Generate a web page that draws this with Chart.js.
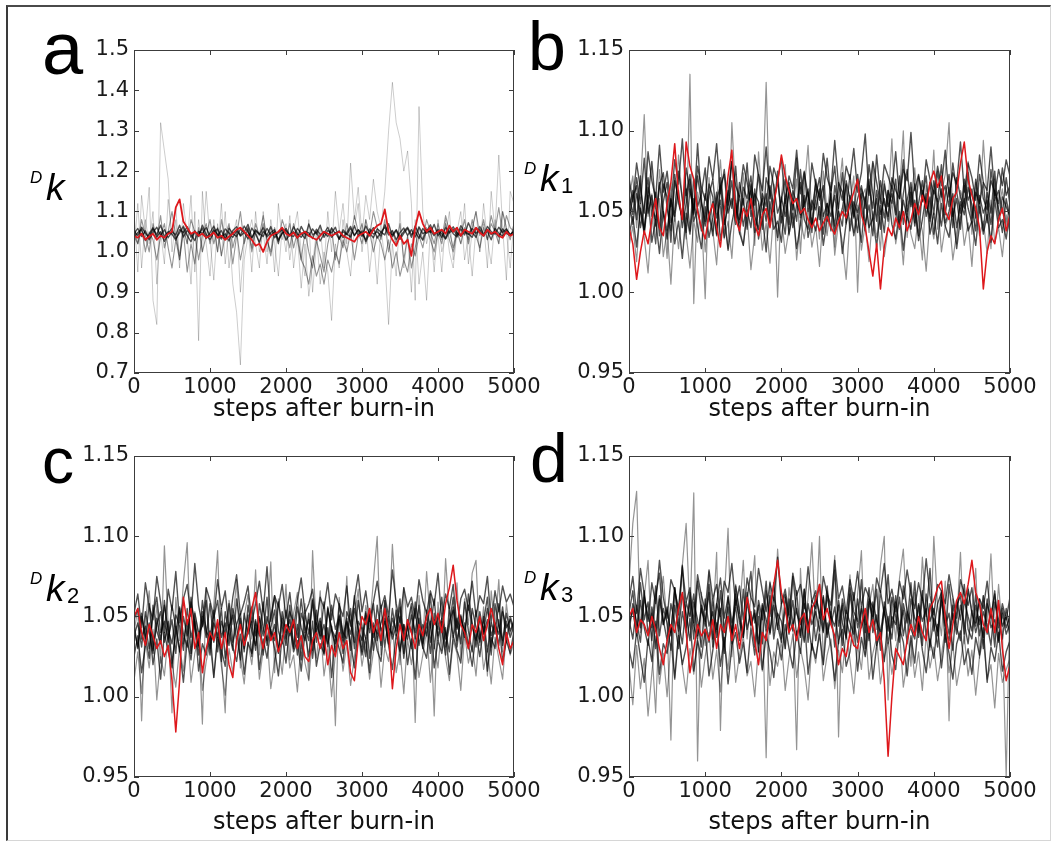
<!DOCTYPE html>
<html>
<head>
<meta charset="utf-8">
<title>MCMC traces</title>
<script src="https://cdn.jsdelivr.net/npm/chart.js@4.4.1/dist/chart.umd.min.js"></script>
<style>
  html, body { margin: 0; padding: 0; background: #fff; }
  #page { position: relative; width: 1060px; height: 852px; overflow: hidden; background: #fff; }
  #page canvas { position: absolute; left: 0; top: 0; }
  #frame {
    position: absolute; left: 6px; top: 5px; width: 1045px; height: 836px; box-sizing: border-box;
    border: 1px solid #d6d6d6; border-left: 2px solid #3a3a3a; border-top: 2px solid #4a4a4a;
  }
</style>
</head>
<body>
<div id="page">
  <div id="frame"></div>
  <canvas id="panelA" width="1060" height="852"></canvas>
  <canvas id="panelB" width="1060" height="852"></canvas>
  <canvas id="panelC" width="1060" height="852"></canvas>
  <canvas id="panelD" width="1060" height="852"></canvas>
</div>
<script>
// steps after burn-in (one sample every 50 steps)
const steps = [0,50,100,150,200,250,300,350,400,450,500,550,600,650,700,750,800,850,900,950,
  1000,1050,1100,1150,1200,1250,1300,1350,1400,1450,1500,1550,1600,1650,1700,1750,1800,1850,1900,1950,
  2000,2050,2100,2150,2200,2250,2300,2350,2400,2450,2500,2550,2600,2650,2700,2750,2800,2850,2900,2950,
  3000,3050,3100,3150,3200,3250,3300,3350,3400,3450,3500,3550,3600,3650,3700,3750,3800,3850,3900,3950,
  4000,4050,4100,4150,4200,4250,4300,4350,4400,4450,4500,4550,4600,4650,4700,4750,4800,4850,4900,4950,5000];

const xTicks = [0, 1000, 2000, 3000, 4000, 5000];
const yTicksK = [0.7, 0.8, 0.9, 1.0, 1.1, 1.2, 1.3, 1.4, 1.5];
const yTicksKn = [0.95, 1.00, 1.05, 1.10, 1.15];
const xTitle = 'steps after burn-in';

// ---- panel a: Dk ----
const kRed = [1.040,1.035,1.045,1.030,1.038,1.045,1.030,1.040,1.035,1.045,
  1.050,1.110,1.130,1.075,1.060,1.045,1.050,1.040,1.045,1.035,
  1.040,1.048,1.035,1.040,1.030,1.038,1.045,1.055,1.060,1.050,
  1.040,1.030,1.015,1.020,1.000,1.025,1.040,1.045,1.050,1.060,
  1.045,1.040,1.048,1.035,1.045,1.050,1.040,1.035,1.030,1.040,
  1.050,1.045,1.040,1.045,1.050,1.040,1.035,1.030,1.025,1.040,
  1.045,1.050,1.040,1.055,1.065,1.070,1.105,1.050,1.030,1.015,
  1.040,1.020,1.030,0.990,1.060,1.100,1.070,1.050,1.060,1.045,
  1.050,1.055,1.045,1.065,1.050,1.060,1.040,1.055,1.050,1.045,
  1.060,1.048,1.040,1.055,1.045,1.050,1.040,1.035,1.050,1.040,1.045];
const kDark1 = [1.045,1.058,1.038,1.052,1.030,1.048,1.061,1.040,1.055,1.035,
  1.050,1.042,1.066,1.037,1.053,1.044,1.028,1.051,1.046,1.060,
  1.039,1.054,1.043,1.032,1.057,1.047,1.036,1.052,1.041,1.064,
  1.049,1.034,1.055,1.045,1.038,1.058,1.042,1.050,1.031,1.046,
  1.053,1.040,1.062,1.044,1.036,1.051,1.047,1.033,1.056,1.043,
  1.049,1.038,1.059,1.045,1.052,1.035,1.048,1.063,1.041,1.054,
  1.046,1.030,1.057,1.044,1.050,1.039,1.067,1.048,1.042,1.055,
  1.037,1.051,1.061,1.043,1.049,1.034,1.058,1.046,1.053,1.040,
  1.056,1.044,1.032,1.050,1.062,1.047,1.039,1.054,1.045,1.036,
  1.059,1.048,1.041,1.055,1.043,1.050,1.037,1.057,1.046,1.040,1.052];
const kDark2 = [1.035,1.048,1.055,1.028,1.044,1.060,1.037,1.050,1.026,1.046,
  1.058,1.033,1.047,1.064,1.040,1.025,1.052,1.038,1.066,1.043,
  1.030,1.049,1.057,1.036,1.045,1.027,1.053,1.062,1.039,1.048,
  1.032,1.059,1.044,1.024,1.051,1.041,1.063,1.035,1.047,1.056,
  1.029,1.043,1.038,1.058,1.046,1.033,1.069,1.042,1.050,1.027,
  1.045,1.061,1.036,1.048,1.031,1.055,1.044,1.037,1.065,1.040,
  1.052,1.026,1.047,1.060,1.034,1.049,1.042,1.070,1.038,1.053,
  1.031,1.046,1.058,1.036,1.064,1.043,1.029,1.055,1.048,1.068,
  1.040,1.053,1.033,1.061,1.045,1.037,1.057,1.042,1.072,1.049,
  1.036,1.063,1.044,1.051,1.030,1.058,1.046,1.039,1.054,1.043,1.050];
const kDark3 = [1.052,1.040,1.061,1.046,1.035,1.057,1.043,1.066,1.038,1.050,
  1.044,1.029,1.055,1.048,1.062,1.036,1.051,1.042,1.058,1.033,
  1.047,1.064,1.040,1.053,1.031,1.059,1.045,1.038,1.056,1.049,
  1.068,1.035,1.052,1.043,1.060,1.037,1.048,1.055,1.027,1.046,
  1.058,1.041,1.050,1.034,1.063,1.045,1.039,1.057,1.044,1.066,
  1.036,1.053,1.047,1.061,1.032,1.050,1.043,1.058,1.040,1.055,
  1.038,1.064,1.046,1.035,1.057,1.049,1.061,1.042,1.053,1.030,
  1.048,1.059,1.041,1.055,1.037,1.062,1.045,1.050,1.067,1.044,
  1.052,1.036,1.060,1.047,1.056,1.040,1.065,1.049,1.043,1.058,
  1.046,1.055,1.039,1.063,1.050,1.044,1.061,1.048,1.057,1.042,1.053];
const kMid1 = [1.04,1.02,1.06,1.00,1.05,1.03,0.98,1.04,1.07,1.01,
  0.96,1.03,0.98,1.05,0.95,1.02,0.97,1.06,1.00,1.04,
  1.08,1.02,1.06,0.99,1.04,1.07,1.01,1.05,0.98,1.03,
  1.06,1.00,1.05,1.02,1.07,1.03,0.99,1.05,1.02,1.06,
  1.03,1.07,1.01,1.05,0.98,0.96,0.92,0.99,0.94,0.97,
  0.92,0.98,0.95,1.00,0.97,1.03,1.00,1.05,0.98,1.04,
  1.07,1.02,1.05,1.00,1.04,1.02,0.98,1.03,0.96,1.00,
  0.94,0.98,0.95,1.02,0.99,1.04,1.01,1.06,1.03,1.00,
  1.05,1.02,1.07,1.03,1.00,1.05,1.02,1.06,1.03,1.08,
  1.04,1.01,1.06,1.03,1.09,1.05,1.02,1.10,1.06,1.03,1.07];
const kMid2 = [1.06,1.02,1.08,1.04,1.00,1.07,1.03,1.09,1.01,1.05,
  1.10,1.04,0.99,1.06,1.02,1.08,1.05,0.98,1.04,1.07,
  1.02,1.06,1.00,1.08,1.03,1.05,0.97,1.04,1.10,1.02,
  1.06,1.01,1.07,1.04,1.09,1.03,1.00,1.06,1.02,1.08,
  1.05,1.01,1.07,1.03,0.98,1.05,1.00,0.96,1.03,0.99,
  0.95,1.02,1.06,0.98,1.04,1.01,1.07,1.03,1.09,1.05,
  1.02,1.08,1.04,1.10,1.06,1.03,1.08,1.00,1.05,1.02,
  1.07,0.98,1.04,0.96,1.01,1.06,1.03,1.08,1.05,1.02,
  1.07,1.03,1.09,1.05,1.01,1.06,1.04,1.08,1.02,1.06,
  1.10,1.04,1.08,1.03,1.07,1.05,1.11,1.04,1.09,1.06,1.05];
const kLight1 = [1.10,0.95,1.14,1.05,1.16,0.88,0.82,1.32,1.25,1.18,
  1.00,1.08,0.96,1.12,1.04,0.92,1.10,0.78,1.15,1.02,
  0.94,1.08,1.00,1.12,0.97,1.06,0.92,0.85,0.72,0.98,
  1.04,1.08,1.02,0.96,1.10,1.00,1.06,0.95,1.12,1.03,
  1.07,0.98,1.05,1.10,1.00,0.94,1.08,0.90,1.02,1.06,
  0.96,1.10,1.00,1.15,1.05,1.12,1.02,1.22,1.08,1.16,
  1.04,1.14,1.08,1.18,1.10,1.06,1.15,1.30,1.42,1.32,
  1.28,1.20,1.25,1.12,0.88,1.36,1.10,1.02,1.06,0.95,
  1.08,1.00,1.04,1.10,0.98,1.06,1.02,1.12,0.97,1.05,
  1.10,1.00,1.07,0.96,1.15,1.05,1.24,1.06,0.93,1.15,1.12];
const kLight2 = [1.00,1.12,0.96,1.08,1.02,1.10,0.92,1.05,0.97,1.13,
  1.04,1.11,0.98,1.06,1.02,1.14,0.95,1.08,1.00,1.15,
  1.03,0.93,1.07,0.99,1.10,0.96,1.04,1.08,0.90,1.02,
  1.06,0.95,1.10,1.00,1.05,0.97,1.08,1.02,0.94,1.06,
  1.00,1.09,0.96,1.04,0.91,1.02,0.89,0.97,1.05,0.92,
  1.00,0.95,0.83,1.02,0.96,1.08,1.00,0.94,1.06,1.12,
  1.00,1.08,0.95,1.04,0.92,1.06,0.98,0.82,1.02,0.94,
  1.10,0.96,1.04,0.90,1.08,0.92,1.00,0.88,1.06,0.98,
  1.04,0.95,1.08,1.00,0.96,1.05,1.10,0.98,1.04,0.94,
  1.06,1.00,1.12,1.03,0.97,1.08,1.02,1.10,1.05,0.96,1.08];

// ---- panel b: Dk1 ----
const k1Red = [1.040,1.030,1.008,1.025,1.038,1.030,1.045,1.058,1.040,1.035,
  1.055,1.068,1.092,1.060,1.045,1.093,1.078,1.070,1.050,1.040,
  1.033,1.048,1.055,1.040,1.028,1.050,1.072,1.088,1.045,1.038,
  1.052,1.047,1.058,1.042,1.035,1.048,1.052,1.040,1.055,1.068,
  1.085,1.072,1.063,1.055,1.058,1.049,1.052,1.045,1.040,1.046,
  1.038,1.043,1.047,1.040,1.036,1.044,1.050,1.046,1.055,1.062,
  1.070,1.048,1.040,1.025,1.010,1.030,1.002,1.028,1.040,1.035,
  1.046,1.040,1.050,1.038,1.045,1.055,1.048,1.060,1.052,1.068,
  1.075,1.065,1.072,1.050,1.045,1.058,1.062,1.080,1.093,1.070,
  1.060,1.052,1.040,1.002,1.025,1.035,1.030,1.045,1.052,1.038,1.048];
const k1Dark1 = [1.062,1.048,1.071,1.055,1.083,1.049,1.060,1.041,1.066,1.074,
  1.052,1.038,1.069,1.058,1.045,1.077,1.063,1.051,1.092,1.056,
  1.044,1.067,1.059,1.036,1.071,1.048,1.062,1.081,1.054,1.043,
  1.065,1.058,1.072,1.047,1.039,1.061,1.053,1.078,1.066,1.049,
  1.057,1.070,1.042,1.063,1.055,1.048,1.074,1.060,1.051,1.067,
  1.045,1.059,1.083,1.056,1.041,1.068,1.062,1.050,1.073,1.046,
  1.058,1.066,1.052,1.079,1.061,1.044,1.069,1.055,1.047,1.071,
  1.063,1.058,1.082,1.050,1.065,1.043,1.072,1.061,1.054,1.068,
  1.048,1.075,1.059,1.066,1.053,1.080,1.062,1.049,1.070,1.057,
  1.064,1.046,1.073,1.058,1.051,1.069,1.062,1.055,1.077,1.060,1.066];
const k1Dark2 = [1.035,1.047,1.028,1.052,1.039,1.060,1.031,1.045,1.024,1.050,
  1.038,1.057,1.030,1.044,1.021,1.049,1.036,1.058,1.041,1.027,
  1.053,1.034,1.046,1.062,1.032,1.048,1.026,1.043,1.055,1.037,
  1.029,1.051,1.040,1.064,1.033,1.047,1.025,1.056,1.039,1.044,
  1.031,1.058,1.036,1.049,1.027,1.042,1.060,1.034,1.046,1.038,
  1.053,1.029,1.045,1.061,1.037,1.050,1.024,1.043,1.056,1.035,
  1.048,1.031,1.059,1.040,1.046,1.028,1.054,1.037,1.063,1.042,
  1.033,1.050,1.026,1.047,1.039,1.057,1.032,1.045,1.061,1.036,
  1.049,1.030,1.055,1.041,1.034,1.052,1.027,1.046,1.058,1.038,
  1.044,1.029,1.053,1.036,1.048,1.031,1.057,1.040,1.045,1.033,1.050];
const k1Dark3 = [1.050,1.063,1.045,1.072,1.036,1.058,1.081,1.052,1.040,1.067,
  1.059,1.031,1.073,1.055,1.046,1.064,1.038,1.070,1.053,1.061,
  1.077,1.044,1.056,1.035,1.066,1.073,1.049,1.058,1.042,1.068,
  1.054,1.080,1.047,1.061,1.056,1.039,1.071,1.062,1.050,1.075,
  1.043,1.059,1.068,1.051,1.083,1.046,1.055,1.064,1.037,1.070,
  1.057,1.066,1.044,1.062,1.078,1.050,1.041,1.069,1.058,1.047,
  1.073,1.054,1.038,1.066,1.052,1.085,1.059,1.046,1.063,1.055,
  1.070,1.041,1.061,1.076,1.053,1.067,1.049,1.058,1.072,1.044,
  1.063,1.056,1.079,1.048,1.065,1.040,1.071,1.059,1.052,1.074,
  1.046,1.062,1.055,1.068,1.043,1.076,1.057,1.063,1.049,1.071,1.054];
const k1Dark4 = [1.071,1.056,1.080,1.064,1.049,1.087,1.069,1.058,1.091,1.062,
  1.075,1.053,1.082,1.067,1.095,1.060,1.073,1.048,1.078,1.065,
  1.057,1.084,1.070,1.092,1.061,1.076,1.054,1.081,1.066,1.059,
  1.079,1.068,1.052,1.085,1.073,1.063,1.090,1.058,1.077,1.069,
  1.083,1.055,1.072,1.064,1.088,1.061,1.075,1.050,1.080,1.067,
  1.059,1.086,1.071,1.063,1.094,1.066,1.057,1.078,1.070,1.089,
  1.062,1.074,1.098,1.060,1.081,1.068,1.055,1.079,1.072,1.064,
  1.087,1.058,1.076,1.069,1.099,1.063,1.073,1.056,1.082,1.070,
  1.061,1.078,1.066,1.088,1.059,1.074,1.067,1.093,1.062,1.080,
  1.071,1.057,1.085,1.068,1.063,1.090,1.060,1.076,1.066,1.082,1.072];
const k1Dark5 = [1.044,1.059,1.066,1.040,1.053,1.071,1.047,1.062,1.035,1.056,
  1.068,1.043,1.051,1.075,1.058,1.037,1.064,1.049,1.072,1.055,
  1.041,1.060,1.070,1.046,1.057,1.034,1.063,1.052,1.078,1.045,
  1.058,1.039,1.067,1.054,1.073,1.048,1.061,1.042,1.056,1.069,
  1.050,1.036,1.065,1.057,1.044,1.076,1.053,1.062,1.040,1.059,
  1.071,1.047,1.055,1.038,1.066,1.052,1.074,1.043,1.060,1.051,
  1.037,1.064,1.056,1.070,1.045,1.058,1.039,1.067,1.053,1.061,
  1.048,1.072,1.042,1.057,1.068,1.050,1.035,1.063,1.055,1.046,
  1.069,1.054,1.041,1.060,1.073,1.047,1.058,1.039,1.066,1.052,
  1.043,1.070,1.056,1.038,1.062,1.049,1.075,1.044,1.059,1.053,1.047];
const k1Dark6 = [1.056,1.042,1.061,1.050,1.037,1.065,1.054,1.045,1.068,1.049,
  1.033,1.058,1.047,1.063,1.040,1.055,1.070,1.044,1.052,1.038,
  1.061,1.048,1.035,1.057,1.066,1.042,1.053,1.069,1.046,1.060,
  1.041,1.055,1.063,1.037,1.050,1.058,1.044,1.066,1.053,1.034,
  1.059,1.047,1.062,1.040,1.054,1.068,1.045,1.039,1.057,1.051,
  1.064,1.036,1.055,1.047,1.060,1.043,1.052,1.067,1.038,1.056,
  1.049,1.061,1.042,1.054,1.035,1.063,1.048,1.058,1.044,1.066,
  1.052,1.039,1.057,1.046,1.062,1.041,1.055,1.069,1.047,1.059,
  1.036,1.053,1.064,1.043,1.050,1.061,1.040,1.056,1.048,1.065,
  1.054,1.038,1.060,1.049,1.057,1.042,1.063,1.051,1.037,1.058,1.045];
const k1Grey1 = [1.058,1.072,1.040,1.065,1.110,1.047,1.061,1.030,1.076,1.052,
  1.021,1.068,1.044,1.085,1.057,1.033,1.135,0.993,1.062,1.049,
  0.996,1.071,1.038,1.056,1.082,1.045,1.027,1.105,1.059,1.036,
  1.074,1.050,1.066,1.029,1.087,1.054,1.130,1.043,1.067,0.997,
  1.060,1.079,1.035,1.052,1.070,1.024,1.063,1.091,1.046,1.057,
  1.033,1.075,1.050,1.068,1.028,1.061,1.083,1.042,1.055,1.072,
  1.000,1.058,1.064,1.037,1.080,1.049,1.026,1.069,1.053,1.095,
  1.041,1.062,1.100,1.034,1.058,1.077,1.045,1.020,1.066,1.052,
  1.088,1.039,1.061,1.073,1.105,1.047,1.030,1.063,1.055,1.081,
  1.036,1.068,1.049,1.094,1.058,1.027,1.070,1.052,1.064,1.041,1.057];
const k1Grey2 = [1.028,1.041,1.019,1.055,1.034,1.012,1.046,1.030,1.058,1.022,
  1.039,1.005,1.048,1.027,1.052,1.036,1.015,1.044,1.031,1.060,
  1.025,1.049,1.038,1.017,1.053,1.033,1.044,1.021,1.057,1.040,
  1.029,1.048,1.014,1.036,1.055,1.026,1.043,1.018,1.051,1.032,
  1.047,1.024,1.039,1.058,1.020,1.045,1.033,1.052,1.028,1.041,
  1.016,1.049,1.035,1.057,1.023,1.044,1.031,1.008,1.046,1.037,
  1.054,1.026,1.042,1.019,1.050,1.034,1.047,1.022,1.039,1.056,
  1.030,1.045,1.017,1.052,1.036,1.027,1.049,1.038,1.013,1.046,
  1.033,1.058,1.025,1.041,1.048,1.020,1.037,1.054,1.029,1.043,
  1.016,1.051,1.035,1.044,1.024,1.057,1.031,1.040,1.022,1.048,1.036];

// ---- panel c: Dk2 ----
const k2Red = [1.050,1.055,1.040,1.032,1.045,1.038,1.030,1.035,1.025,1.032,
  1.010,0.978,1.010,1.062,1.045,1.055,1.030,1.040,1.015,1.030,
  1.040,1.035,1.048,1.030,1.040,1.020,1.012,1.035,1.045,1.032,
  1.040,1.055,1.065,1.040,1.030,1.045,1.035,1.040,1.028,1.035,
  1.045,1.040,1.048,1.030,1.038,1.025,1.022,1.035,1.040,1.030,
  1.038,1.020,1.032,1.025,1.040,1.030,1.035,1.015,1.010,1.035,
  1.050,1.045,1.055,1.040,1.048,1.035,1.055,1.040,1.005,1.030,
  1.045,1.035,1.048,1.040,1.030,1.045,1.038,1.050,1.055,1.045,
  1.052,1.040,1.058,1.068,1.082,1.060,1.045,1.040,1.030,1.045,
  1.040,1.050,1.035,1.045,1.055,1.045,1.030,1.020,1.040,1.030,1.035];
const k2Dark1 = [1.045,1.030,1.052,1.038,1.024,1.057,1.041,1.033,1.060,1.036,
  1.048,1.027,1.055,1.039,1.031,1.062,1.043,1.026,1.050,1.037,
  1.058,1.034,1.046,1.022,1.053,1.040,1.029,1.061,1.044,1.035,
  1.051,1.025,1.047,1.038,1.059,1.032,1.043,1.054,1.028,1.049,
  1.036,1.057,1.030,1.045,1.023,1.052,1.039,1.060,1.034,1.047,
  1.026,1.055,1.041,1.033,1.058,1.037,1.049,1.029,1.063,1.042,
  1.035,1.053,1.024,1.046,1.039,1.057,1.031,1.050,1.036,1.044,
  1.061,1.027,1.048,1.040,1.055,1.032,1.045,1.038,1.064,1.030,
  1.051,1.043,1.026,1.056,1.037,1.049,1.033,1.059,1.041,1.028,
  1.054,1.036,1.047,1.062,1.031,1.045,1.039,1.056,1.034,1.050,1.042];
const k2Dark2 = [1.025,1.038,1.015,1.032,1.046,1.020,1.036,1.011,1.040,1.028,
  1.018,1.044,1.030,1.009,1.035,1.023,1.047,1.016,1.033,1.026,
  1.041,1.012,1.037,1.029,1.019,1.045,1.031,1.022,1.039,1.014,
  1.034,1.027,1.048,1.017,1.036,1.024,1.042,1.030,1.013,1.038,
  1.021,1.044,1.028,1.035,1.016,1.040,1.025,1.047,1.019,1.033,
  1.027,1.043,1.012,1.038,1.030,1.021,1.046,1.034,1.018,1.041,
  1.026,1.037,1.015,1.044,1.029,1.022,1.049,1.032,1.017,1.039,
  1.028,1.045,1.020,1.036,1.011,1.042,1.031,1.024,1.047,1.018,
  1.035,1.027,1.043,1.014,1.038,1.029,1.021,1.046,1.033,1.019,
  1.040,1.025,1.044,1.016,1.037,1.030,1.048,1.022,1.035,1.027,1.041];
const k2Dark3 = [1.052,1.064,1.043,1.071,1.056,1.048,1.075,1.059,1.040,1.067,
  1.054,1.078,1.046,1.061,1.070,1.050,1.083,1.057,1.044,1.068,
  1.060,1.049,1.073,1.055,1.066,1.042,1.062,1.076,1.051,1.059,
  1.069,1.046,1.058,1.072,1.053,1.081,1.047,1.063,1.056,1.070,
  1.049,1.065,1.043,1.060,1.074,1.052,1.058,1.067,1.045,1.062,
  1.055,1.071,1.048,1.064,1.057,1.050,1.069,1.044,1.061,1.076,
  1.053,1.066,1.047,1.059,1.072,1.055,1.063,1.050,1.079,1.058,
  1.046,1.068,1.056,1.062,1.049,1.073,1.060,1.052,1.066,1.057,
  1.077,1.048,1.064,1.055,1.070,1.043,1.061,1.067,1.054,1.072,
  1.050,1.063,1.058,1.075,1.046,1.066,1.053,1.069,1.059,1.064,1.056];
const k2Dark4 = [1.038,1.046,1.031,1.053,1.040,1.027,1.049,1.035,1.057,1.042,
  1.033,1.051,1.044,1.029,1.055,1.037,1.048,1.032,1.060,1.041,
  1.036,1.054,1.028,1.047,1.039,1.058,1.034,1.045,1.052,1.030,
  1.043,1.056,1.038,1.049,1.026,1.050,1.041,1.035,1.059,1.044,
  1.032,1.053,1.046,1.037,1.061,1.040,1.048,1.029,1.054,1.036,
  1.045,1.031,1.057,1.042,1.050,1.034,1.047,1.039,1.055,1.043,
  1.028,1.052,1.040,1.058,1.035,1.046,1.053,1.033,1.049,1.041,
  1.056,1.037,1.044,1.030,1.059,1.045,1.038,1.051,1.034,1.048,
  1.042,1.062,1.036,1.047,1.054,1.031,1.050,1.039,1.057,1.044,
  1.035,1.049,1.041,1.055,1.038,1.046,1.032,1.053,1.043,1.048,1.040];
const k2Dark5 = [1.042,1.031,1.050,1.036,1.058,1.029,1.045,1.053,1.034,1.047,
  1.021,1.040,1.056,1.033,1.048,1.027,1.052,1.039,1.044,1.060,
  1.030,1.046,1.037,1.055,1.024,1.043,1.051,1.035,1.049,1.028,
  1.057,1.041,1.032,1.050,1.038,1.062,1.036,1.045,1.027,1.053,
  1.040,1.048,1.031,1.056,1.043,1.035,1.052,1.024,1.046,1.038,
  1.059,1.033,1.044,1.028,1.051,1.040,1.036,1.055,1.030,1.047,
  1.042,1.025,1.053,1.037,1.048,1.032,1.060,1.043,1.039,1.054,
  1.029,1.045,1.036,1.051,1.040,1.057,1.033,1.046,1.027,1.052,
  1.038,1.049,1.031,1.044,1.062,1.035,1.048,1.041,1.030,1.055,
  1.043,1.034,1.050,1.028,1.046,1.039,1.058,1.032,1.047,1.037,1.044];
const k2Dark6 = [1.048,1.055,1.036,1.044,1.030,1.051,1.062,1.040,1.047,1.034,
  1.057,1.043,1.028,1.050,1.038,1.059,1.045,1.031,1.053,1.042,
  1.026,1.049,1.060,1.037,1.046,1.032,1.055,1.044,1.023,1.052,
  1.039,1.047,1.029,1.058,1.043,1.035,1.050,1.063,1.041,1.033,
  1.054,1.038,1.047,1.026,1.052,1.044,1.035,1.061,1.040,1.049,
  1.031,1.056,1.042,1.037,1.048,1.027,1.053,1.046,1.034,1.060,
  1.044,1.036,1.051,1.029,1.057,1.041,1.047,1.033,1.055,1.038,
  1.050,1.024,1.045,1.058,1.036,1.049,1.030,1.054,1.043,1.061,
  1.035,1.047,1.040,1.028,1.056,1.042,1.051,1.037,1.064,1.046,
  1.031,1.053,1.039,1.048,1.026,1.058,1.044,1.035,1.052,1.041,1.047];
const k2Grey1 = [1.040,1.055,0.985,1.048,1.066,1.030,1.058,1.021,1.094,1.044,
  0.990,1.062,1.035,1.071,1.096,1.027,1.053,1.040,0.983,1.068,
  1.032,1.057,1.091,1.024,0.990,1.060,1.045,1.073,1.018,1.050,
  1.064,1.036,1.079,1.026,1.055,1.042,1.084,1.015,1.061,1.037,
  1.070,1.023,1.052,1.065,1.030,1.058,1.011,1.091,1.040,1.066,
  1.028,1.054,1.043,0.982,1.062,1.035,1.075,1.019,1.049,1.067,
  1.031,1.057,1.044,1.072,1.100,1.026,1.060,1.038,1.095,1.053,
  1.020,1.068,1.041,1.056,0.984,1.063,1.034,1.078,1.047,0.988,
  1.059,1.029,1.086,1.050,1.038,1.071,1.024,1.061,1.045,1.077,
  1.085,1.032,1.056,1.013,1.066,1.042,1.073,1.028,1.058,1.039,1.048];
const k2Grey2 = [1.010,1.028,1.002,1.035,1.018,1.042,0.998,1.025,1.013,1.039,
  1.021,1.006,1.031,1.016,1.044,1.009,1.027,1.037,1.004,1.022,
  1.033,1.012,1.040,1.019,1.001,1.030,1.015,1.036,1.024,1.008,
  1.034,1.020,1.043,1.011,1.029,1.038,1.005,1.023,1.032,1.014,
  1.041,1.018,1.026,1.003,1.035,1.021,1.010,1.037,1.024,1.045,
  1.013,1.030,1.000,1.027,1.039,1.016,1.033,1.007,1.025,1.042,
  1.019,1.034,1.011,1.028,1.040,1.006,1.031,1.022,1.044,1.015,
  1.029,1.002,1.036,1.020,1.038,1.012,1.026,1.041,1.009,1.033,
  1.018,1.045,1.024,1.010,1.035,1.027,1.004,1.039,1.021,1.032,
  1.013,1.043,1.017,1.030,1.008,1.037,1.024,1.011,1.040,1.026,1.034];

// ---- panel d: Dk3 ----
const k3Red = [1.050,1.055,1.040,1.048,1.045,1.038,1.050,1.042,1.030,1.020,
  1.035,1.045,1.040,1.055,1.065,1.040,1.015,1.030,1.045,1.038,
  1.042,1.035,1.048,1.030,1.045,1.040,1.050,1.035,1.045,1.030,
  1.045,1.062,1.050,1.035,1.020,1.040,1.035,1.055,1.070,1.085,
  1.065,1.055,1.040,1.045,1.035,1.048,1.052,1.040,1.055,1.060,
  1.070,1.048,1.055,1.045,1.038,1.020,1.030,1.025,1.040,1.032,
  1.030,1.045,1.055,1.040,1.048,1.035,1.040,1.010,0.963,1.000,
  1.030,1.025,1.020,1.035,1.045,1.038,1.050,1.040,1.035,1.055,
  1.060,1.068,1.072,1.050,1.030,1.045,1.060,1.065,1.058,1.070,
  1.085,1.065,1.058,1.045,1.040,1.055,1.040,1.060,1.030,1.010,1.020];
const k3Dark1 = [1.052,1.066,1.040,1.071,1.048,1.059,1.035,1.063,1.077,1.045,
  1.056,1.038,1.068,1.051,1.082,1.043,1.060,1.036,1.072,1.054,
  1.047,1.065,1.031,1.058,1.074,1.049,1.062,1.040,1.069,1.053,
  1.037,1.061,1.078,1.046,1.057,1.033,1.066,1.050,1.071,1.042,
  1.058,1.064,1.039,1.075,1.052,1.045,1.067,1.034,1.060,1.055,
  1.070,1.041,1.063,1.049,1.079,1.044,1.057,1.036,1.068,1.053,
  1.047,1.073,1.040,1.061,1.056,1.032,1.066,1.051,1.076,1.043,
  1.059,1.038,1.069,1.054,1.045,1.072,1.037,1.062,1.050,1.080,
  1.041,1.058,1.065,1.034,1.070,1.048,1.057,1.063,1.039,1.067,
  1.052,1.044,1.061,1.030,1.058,1.049,1.066,1.035,1.055,1.043,1.050];
const k3Dark2 = [1.030,1.018,1.041,1.025,1.009,1.036,1.022,1.047,1.014,1.033,
  1.027,1.044,1.011,1.038,1.020,1.031,1.049,1.016,1.035,1.024,
  1.042,1.013,1.029,1.046,1.019,1.037,1.008,1.032,1.040,1.021,
  1.034,1.015,1.043,1.026,1.050,1.017,1.039,1.028,1.012,1.036,
  1.023,1.045,1.030,1.018,1.041,1.027,1.052,1.014,1.033,1.024,
  1.039,1.020,1.046,1.031,1.010,1.035,1.042,1.019,1.028,1.048,
  1.016,1.037,1.025,1.044,1.011,1.032,1.040,1.022,1.050,1.026,
  1.017,1.043,1.034,1.013,1.038,1.021,1.047,1.029,1.015,1.036,
  1.024,1.045,1.018,1.039,1.027,1.011,1.033,1.041,1.020,1.030,
  1.014,1.037,1.026,1.043,1.009,1.031,1.022,1.040,1.016,1.028,1.035];
const k3Dark3 = [1.060,1.075,1.052,1.080,1.064,1.047,1.071,1.058,1.085,1.062,
  1.049,1.073,1.066,1.055,1.081,1.059,1.068,1.046,1.076,1.063,
  1.054,1.079,1.061,1.070,1.050,1.072,1.065,1.083,1.057,1.069,
  1.048,1.074,1.062,1.056,1.080,1.066,1.053,1.071,1.060,1.087,
  1.058,1.067,1.051,1.077,1.063,1.070,1.055,1.081,1.059,1.066,
  1.049,1.075,1.064,1.057,1.085,1.061,1.069,1.052,1.073,1.060,
  1.078,1.056,1.068,1.062,1.050,1.074,1.065,1.083,1.058,1.067,
  1.053,1.072,1.061,1.079,1.064,1.055,1.071,1.060,1.086,1.063,
  1.051,1.070,1.066,1.058,1.076,1.062,1.049,1.073,1.064,1.057,
  1.068,1.046,1.061,1.055,1.072,1.050,1.064,1.043,1.058,1.048,1.062];
const k3Dark4 = [1.045,1.054,1.038,1.060,1.043,1.032,1.056,1.041,1.063,1.048,
  1.035,1.058,1.046,1.030,1.053,1.040,1.065,1.044,1.036,1.057,
  1.049,1.034,1.061,1.042,1.055,1.031,1.050,1.039,1.064,1.046,
  1.037,1.059,1.044,1.052,1.033,1.057,1.048,1.040,1.062,1.051,
  1.036,1.055,1.043,1.060,1.038,1.049,1.034,1.058,1.045,1.053,
  1.041,1.063,1.037,1.050,1.044,1.057,1.032,1.054,1.046,1.039,
  1.061,1.043,1.052,1.035,1.059,1.047,1.040,1.056,1.033,1.050,
  1.045,1.062,1.038,1.053,1.042,1.036,1.058,1.047,1.055,1.031,
  1.049,1.041,1.060,1.044,1.035,1.052,1.039,1.057,1.046,1.033,
  1.054,1.040,1.050,1.037,1.061,1.043,1.048,1.034,1.052,1.039,1.046];
const k3Dark5 = [1.048,1.036,1.057,1.043,1.066,1.039,1.052,1.030,1.061,1.045,
  1.054,1.040,1.068,1.047,1.033,1.059,1.050,1.064,1.038,1.055,
  1.044,1.070,1.036,1.058,1.049,1.027,1.063,1.046,1.056,1.035,
  1.067,1.042,1.053,1.031,1.060,1.048,1.072,1.039,1.057,1.044,
  1.034,1.062,1.050,1.041,1.066,1.037,1.058,1.047,1.029,1.063,
  1.052,1.040,1.069,1.045,1.056,1.033,1.061,1.049,1.038,1.065,
  1.043,1.055,1.030,1.059,1.048,1.067,1.036,1.053,1.041,1.062,
  1.050,1.034,1.058,1.046,1.071,1.040,1.057,1.032,1.064,1.047,
  1.055,1.038,1.066,1.044,1.052,1.029,1.060,1.048,1.070,1.042,
  1.036,1.057,1.045,1.063,1.039,1.054,1.031,1.058,1.044,1.050,1.038];
const k3Dark6 = [1.040,1.058,1.047,1.034,1.062,1.050,1.043,1.069,1.038,1.055,
  1.046,1.029,1.057,1.041,1.064,1.052,1.035,1.059,1.048,1.031,
  1.061,1.044,1.053,1.037,1.066,1.042,1.056,1.033,1.060,1.049,
  1.039,1.065,1.045,1.054,1.028,1.058,1.041,1.063,1.036,1.052,
  1.047,1.030,1.061,1.044,1.055,1.038,1.067,1.043,1.057,1.035,
  1.050,1.062,1.039,1.053,1.031,1.060,1.046,1.037,1.064,1.048,
  1.034,1.056,1.045,1.068,1.040,1.051,1.029,1.059,1.047,1.036,
  1.063,1.042,1.054,1.033,1.061,1.049,1.044,1.066,1.037,1.058,
  1.046,1.031,1.062,1.052,1.039,1.057,1.043,1.035,1.060,1.050,
  1.041,1.064,1.038,1.053,1.045,1.032,1.059,1.048,1.036,1.055,1.043];
const k3Grey1 = [1.070,1.108,1.128,1.040,1.062,1.085,1.030,0.990,1.055,1.075,
  1.045,0.973,1.068,1.038,1.082,1.108,1.050,1.127,0.960,1.065,
  1.032,1.078,1.046,1.090,0.979,1.060,1.105,1.025,1.070,1.052,
  1.085,1.036,1.063,1.088,1.028,1.055,0.962,1.072,1.041,1.092,
  1.058,1.030,1.068,1.047,0.967,1.080,1.035,1.062,1.096,1.044,
  1.100,1.020,1.066,1.053,1.088,0.975,1.058,1.040,1.076,1.032,
  1.064,1.091,1.026,1.056,1.070,1.042,1.082,1.100,0.998,1.060,
  1.035,1.074,1.092,1.048,1.019,1.065,1.040,1.087,1.052,1.029,
  1.100,1.057,1.038,1.072,0.985,1.061,1.045,1.090,1.033,1.068,
  1.053,1.080,1.024,1.063,1.047,1.089,1.036,1.070,1.041,0.950,1.060];
const k3Grey2 = [1.020,0.995,1.032,1.005,1.024,0.988,1.015,1.038,1.008,1.027,
  1.000,1.033,1.012,1.041,1.019,1.002,1.030,1.014,1.036,1.006,
  1.025,1.040,1.011,1.029,1.003,1.034,1.017,1.044,1.009,1.026,
  1.038,1.013,1.022,1.000,1.031,1.016,1.042,1.007,1.028,1.019,
  1.035,1.004,1.024,1.039,1.012,1.030,1.018,0.998,1.033,1.021,
  1.043,1.010,1.026,1.036,1.005,1.029,1.015,1.040,1.023,1.002,
  1.032,1.017,1.045,1.011,1.027,1.037,1.008,1.024,1.034,1.014,
  1.030,1.041,1.006,1.022,1.035,1.012,1.028,1.004,1.039,1.018,
  1.031,1.010,1.026,1.043,1.015,1.033,1.007,1.021,1.038,1.013,
  1.029,1.001,1.025,1.036,1.011,1.020,0.993,1.027,1.009,1.017,1.024];

const RED = 'rgb(222,24,28)';
const DARK = 'rgba(0,0,0,0.68)';
const MID = 'rgba(0,0,0,0.42)';
const LIGHT = 'rgba(0,0,0,0.2)';

function trace(values, color, width) {
  return {
    data: values,
    borderColor: color,
    borderWidth: width,
    borderJoinStyle: 'round',
    pointRadius: 0,
    fill: false,
    tension: 0
  };
}

// frame, inward ticks, panel letter and y label
const panelDecor = {
  id: 'panelDecor',
  afterDatasetsDraw(chart) {
    const { ctx, chartArea: a, scales } = chart;
    ctx.save();
    ctx.strokeStyle = '#3c3c3c';
    ctx.lineWidth = 1;
    ctx.beginPath();
    scales.x.ticks.forEach(t => {
      const px = Math.round(scales.x.getPixelForValue(t.value)) + 0.5;
      ctx.moveTo(px, a.bottom); ctx.lineTo(px, a.bottom - 5);
      ctx.moveTo(px, a.top); ctx.lineTo(px, a.top + 5);
    });
    scales.y.ticks.forEach(t => {
      const py = Math.round(scales.y.getPixelForValue(t.value)) + 0.5;
      ctx.moveTo(a.left, py); ctx.lineTo(a.left + 5, py);
      ctx.moveTo(a.right, py); ctx.lineTo(a.right - 5, py);
    });
    ctx.stroke();
    ctx.strokeRect(Math.round(a.left) + 0.5, Math.round(a.top) + 0.5,
      Math.round(a.right - a.left) - 1, Math.round(a.bottom - a.top) - 1);
    ctx.restore();
  },
  afterDraw(chart, args, o) {
    const ctx = chart.ctx;
    ctx.save();
    ctx.fillStyle = '#000';
    ctx.textBaseline = 'alphabetic';
    ctx.textAlign = 'left';
    ctx.font = o.letterSize + 'px "Liberation Sans", Arial, sans-serif';
    ctx.fillText(o.letter, o.letterX, o.letterY);
    ctx.font = 'italic 17px "Liberation Sans", Arial, sans-serif';
    ctx.fillText('D', o.labelX, o.labelY - 17);
    ctx.font = 'italic 37px "Liberation Sans", Arial, sans-serif';
    ctx.fillText('k', o.labelX + 16, o.labelY);
    if (o.sub) {
      ctx.font = '22px "Liberation Sans", Arial, sans-serif';
      ctx.fillText(o.sub, o.labelX + 37, o.labelY + 2);
    }
    ctx.restore();
  }
};

function makePanel(id, p) {
  const [L, T, R, B] = p.box;
  const tickFont = { family: 'DejaVu Sans', size: 21 };
  new Chart(document.getElementById(id), {
    type: 'line',
    data: { labels: steps, datasets: p.datasets },
    plugins: [panelDecor],
    options: {
      responsive: false,
      animation: false,
      devicePixelRatio: 1,
      events: [],
      layout: { padding: { left: L - 60, top: T, right: 1060 - R, bottom: 852 - B - p.titleGap } },
      plugins: {
        legend: { display: false },
        tooltip: { enabled: false },
        panelDecor: p.decor
      },
      scales: {
        x: {
          type: 'linear', min: 0, max: 5000,
          grid: { display: false, drawTicks: false },
          border: { display: false },
          afterBuildTicks: s => { s.ticks = xTicks.map(v => ({ value: v })); },
          afterFit: s => { s.height = p.titleGap; },
          ticks: { autoSkip: false, maxRotation: 0, padding: 2, color: '#1a1a1a', font: tickFont,
                   callback: v => String(v) },
          title: { display: true, text: xTitle, color: '#111',
                   font: { family: 'DejaVu Sans', size: 24 }, padding: 0 }
        },
        y: {
          type: 'linear', min: p.yTicks[0], max: p.yTicks[p.yTicks.length - 1],
          grid: { display: false, drawTicks: false },
          border: { display: false },
          afterBuildTicks: s => { s.ticks = p.yTicks.map(v => ({ value: v })); },
          afterFit: s => { s.width = 60; },
          ticks: { padding: 5, color: '#1a1a1a', font: tickFont, callback: v => v.toFixed(p.dec) }
        }
      }
    }
  });
}

makePanel('panelA', {
  box: [134, 50, 514, 373], titleGap: 51, yTicks: yTicksK, dec: 1,
  decor: { letter: 'a', letterSize: 74, letterX: 42, letterY: 74, labelX: 30, labelY: 200, sub: '' },
  datasets: [
    trace(kRed, RED, 1.8),
    trace(kDark1, DARK, 1.4), trace(kDark2, DARK, 1.4), trace(kDark3, DARK, 1.4),
    trace(kMid1, MID, 1.1), trace(kMid2, MID, 1.1),
    trace(kLight1, LIGHT, 1), trace(kLight2, LIGHT, 1)
  ]
});

makePanel('panelB', {
  box: [629, 50, 1010, 373], titleGap: 51, yTicks: yTicksKn, dec: 2,
  decor: { letter: 'b', letterSize: 68, letterX: 528, letterY: 70, labelX: 524, labelY: 191, sub: '1' },
  datasets: [
    trace(k1Red, RED, 1.5),
    trace(k1Dark1, DARK, 1.4), trace(k1Dark2, DARK, 1.4), trace(k1Dark3, DARK, 1.4),
    trace(k1Dark4, DARK, 1.4), trace(k1Dark5, DARK, 1.4), trace(k1Dark6, DARK, 1.4),
    trace(k1Grey1, MID, 1.2), trace(k1Grey2, MID, 1.2)
  ]
});

makePanel('panelC', {
  box: [134, 456, 514, 777], titleGap: 60, yTicks: yTicksKn, dec: 2,
  decor: { letter: 'c', letterSize: 64, letterX: 42, letterY: 483, labelX: 30, labelY: 601, sub: '2' },
  datasets: [
    trace(k2Red, RED, 1.5),
    trace(k2Dark1, DARK, 1.4), trace(k2Dark2, DARK, 1.4), trace(k2Dark3, DARK, 1.4),
    trace(k2Dark4, DARK, 1.4), trace(k2Dark5, DARK, 1.4), trace(k2Dark6, DARK, 1.4),
    trace(k2Grey1, MID, 1.2), trace(k2Grey2, MID, 1.2)
  ]
});

makePanel('panelD', {
  box: [629, 456, 1010, 777], titleGap: 60, yTicks: yTicksKn, dec: 2,
  decor: { letter: 'd', letterSize: 68, letterX: 530, letterY: 482, labelX: 524, labelY: 600, sub: '3' },
  datasets: [
    trace(k3Red, RED, 1.5),
    trace(k3Dark1, DARK, 1.4), trace(k3Dark2, DARK, 1.4), trace(k3Dark3, DARK, 1.4),
    trace(k3Dark4, DARK, 1.4), trace(k3Dark5, DARK, 1.4), trace(k3Dark6, DARK, 1.4),
    trace(k3Grey1, MID, 1.2), trace(k3Grey2, MID, 1.2)
  ]
});
</script>
</body>
</html>
